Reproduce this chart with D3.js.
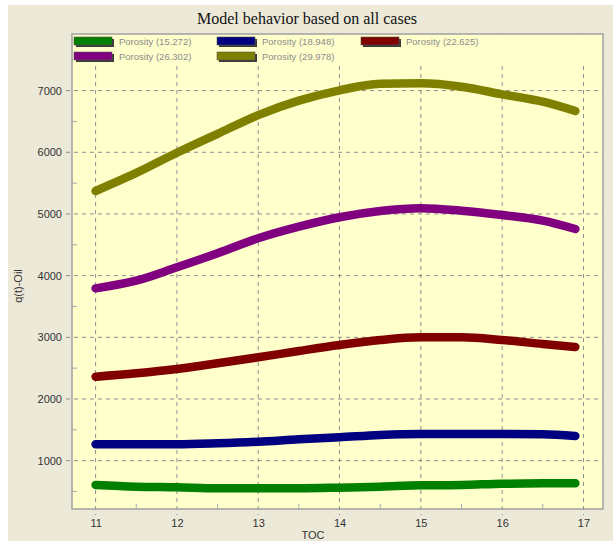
<!DOCTYPE html>
<html>
<head>
<meta charset="utf-8">
<script src="https://cdn.jsdelivr.net/npm/d3@7"></script>
<style>
	body { margin: 0; background: #ffffff; }
	.tick-label { font-family: "Liberation Sans", Arial, sans-serif; font-size: 11px; fill: #333333; }
	.legend-label { font-family: "Liberation Sans", Arial, sans-serif; font-size: 9.5px; fill: #8c8c8c; }
</style>
</head>
<body>
<div id="chartDiv"></div>
<script>
// x values (TOC) the curves were sampled at
var tocValues = [11, 11.5, 12, 12.5, 13, 13.5, 14, 14.5, 15, 15.5, 16, 16.5, 16.9];

var porosity15 = [605, 578, 567, 551, 551, 551, 562, 578, 600, 605, 626, 632, 632];
var porosity18 = [1265, 1265, 1265, 1281, 1307, 1346, 1378, 1416, 1432, 1432, 1432, 1427, 1400];
var porosity22 = [2361, 2416, 2486, 2578, 2676, 2778, 2875, 2956, 3000, 3000, 2956, 2891, 2843];
var porosity26 = [3794, 3918, 4135, 4362, 4605, 4793, 4946, 5048, 5092, 5053, 4983, 4891, 4756];
var porosity29 = [5372, 5665, 5993, 6300, 6603, 6837, 7005, 7110, 7118, 7063, 6940, 6821, 6670];

var seriesNames = ["Porosity (15.272)", "Porosity (18.948)", "Porosity (22.625)", "Porosity (26.302)", "Porosity (29.978)"];
var seriesColors = ["#008000", "#000080", "#800000", "#800080", "#808000"];

var xTicks = [11, 12, 13, 14, 15, 16, 17];
var yTicks = [1000, 2000, 3000, 4000, 5000, 6000, 7000];

;(function() {

	var width = 613;
	var height = 541;
	var plot = { left: 72, right: 603, top: 34, bottom: 509 };

	var chart;
	var xScale;
	var yScale;

	init();

	function init() {
		chart = d3.select("#chartDiv").append("svg")
			.attr("width", width)
			.attr("height", height);

		// windows-ish panel
		chart.append("rect")
			.attr("x", 8).attr("y", 5)
			.attr("width", width - 8).attr("height", height - 5)
			.style("fill", "#ece9d8");

		xScale = d3.scaleLinear().domain([10.71, 17.24]).range([plot.left, plot.right]);
		yScale = d3.scaleLinear().domain([216, 7918]).range([plot.bottom, plot.top]);

		chart.append("rect")
			.attr("x", plot.left).attr("y", plot.top)
			.attr("width", plot.right - plot.left).attr("height", plot.bottom - plot.top)
			.style("fill", "#ffffcc");

		createAxes();
		drawLines();
		drawLegend();

		chart.append("rect")
			.attr("x", plot.left).attr("y", plot.top)
			.attr("width", plot.right - plot.left).attr("height", plot.bottom - plot.top)
			.style("fill", "none")
			.style("stroke", "#a0a0a0")
			.style("stroke-width", 1.5);

		// title
		chart.append("text")
			.attr("x", 307).attr("y", 24)
			.attr("text-anchor", "middle")
			.style("font-family", "'Liberation Serif', 'Times New Roman', serif")
			.style("font-size", "16px")
			.style("fill", "#111")
			.text("Model behavior based on all cases");
	}

	function createAxes() {
		var grid = chart.append("g").attr("class", "grid");

		grid.selectAll(".vgrid")
			.data(xTicks)
			.enter().append("line")
				.attr("x1", function(d) { return xScale(d); })
				.attr("x2", function(d) { return xScale(d); })
				.attr("y1", plot.top)
				.attr("y2", plot.bottom + 6)
				.style("stroke", "#8c8c8c")
				.style("stroke-dasharray", "4,4");

		grid.selectAll(".hgrid")
			.data(yTicks)
			.enter().append("line")
				.attr("x1", plot.left - 6)
				.attr("x2", plot.right)
				.attr("y1", function(d) { return yScale(d); })
				.attr("y2", function(d) { return yScale(d); })
				.style("stroke", "#8c8c8c")
				.style("stroke-dasharray", "4,4");

		// minor ticks, inside
		var minorY = d3.range(500, 8000, 1000);
		grid.selectAll(".yminor")
			.data(minorY)
			.enter().append("line")
				.attr("x1", plot.left).attr("x2", plot.left + 5)
				.attr("y1", function(d) { return yScale(d); })
				.attr("y2", function(d) { return yScale(d); })
				.style("stroke", "#a8a8b8");

		var minorX = d3.range(11.5, 17, 1);
		grid.selectAll(".xminor")
			.data(minorX)
			.enter().append("line")
				.attr("x1", function(d) { return xScale(d); })
				.attr("x2", function(d) { return xScale(d); })
				.attr("y1", plot.bottom).attr("y2", plot.bottom - 5)
				.style("stroke", "#a8a8b8");

		var xAxis = d3.axisBottom(xScale).tickValues(xTicks).tickSize(0).tickPadding(10)
			.tickFormat(d3.format("d"));
		var xg = chart.append("g")
			.attr("transform", "translate(0," + plot.bottom + ")")
			.call(xAxis);
		xg.select(".domain").remove();
		xg.selectAll("text").attr("class", "tick-label");

		var yAxis = d3.axisLeft(yScale).tickValues(yTicks).tickSize(0).tickPadding(10)
			.tickFormat(d3.format("d"));
		var yg = chart.append("g")
			.attr("transform", "translate(" + plot.left + ",0)")
			.call(yAxis);
		yg.select(".domain").remove();
		yg.selectAll("text").attr("class", "tick-label");

		// axis headers
		chart.append("text")
			.attr("class", "tick-label")
			.attr("text-anchor", "middle")
			.attr("transform", "translate(313, 539)")
			.text("TOC");

		chart.append("text")
			.attr("class", "tick-label")
			.attr("text-anchor", "middle")
			.attr("transform", "translate(22, 286) rotate(-90)")
			.text("q(t)-Oil");
	}

	function drawLines() {
		var allSeries = [porosity15, porosity18, porosity22, porosity26, porosity29];

		var line = d3.line()
			.x(function(d, i) { return xScale(tocValues[i]); })
			.y(function(d) { return yScale(d); })
			.curve(d3.curveMonotoneX);

		chart.append("g").selectAll(".series")
			.data(allSeries)
			.enter().append("path")
				.attr("class", "series")
				.attr("d", line)
				.style("fill", "none")
				.style("stroke", function(d, i) { return seriesColors[i]; })
				.style("stroke-width", 8.5)
				.style("stroke-linecap", "round")
				.style("stroke-linejoin", "round");
	}

	function drawLegend() {
		// legend sits on plot background and hides the grid behind it
		chart.append("rect")
			.attr("x", plot.left + 1).attr("y", plot.top + 1)
			.attr("width", plot.right - plot.left - 2).attr("height", 30)
			.style("fill", "#ffffcc");

		var colX = [75, 218, 362];
		var rowY = [42, 57];

		var items = chart.append("g").selectAll(".legend")
			.data(seriesNames)
			.enter().append("g")
				.attr("class", "legend")
				.attr("transform", function(d, i) {
					return "translate(" + colX[i % 3] + "," + rowY[Math.floor(i / 3)] + ")";
				});

		items.append("rect")
			.attr("x", 1).attr("y", -3)
			.attr("width", 38).attr("height", 8)
			.style("fill", "#3a3a3a");

		items.append("rect")
			.attr("x", -1).attr("y", -5)
			.attr("width", 38).attr("height", 8)
			.style("fill", function(d, i) { return seriesColors[i]; })
			.style("stroke", "#555")
			.style("stroke-width", 0.6);

		items.append("text")
			.attr("class", "legend-label")
			.attr("x", 44).attr("y", 3)
			.text(function(d) { return d; });
	}

})();
</script>
</body>
</html>
